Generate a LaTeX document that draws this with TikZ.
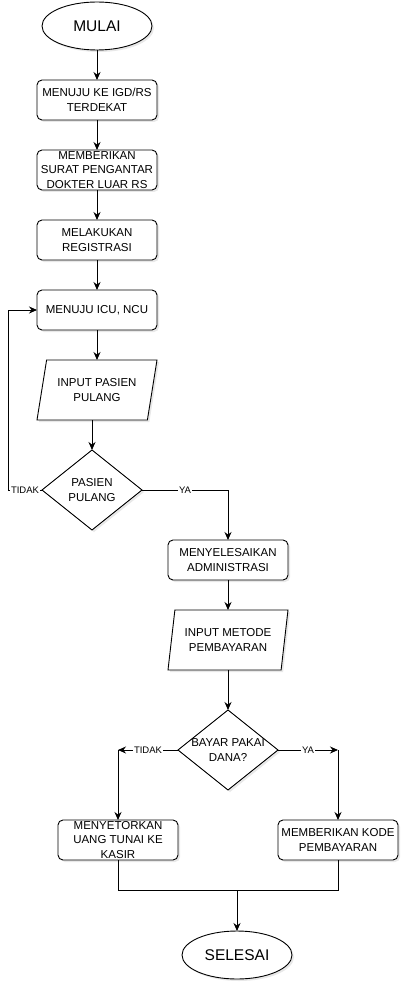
\documentclass[tikz,border=0pt]{standalone}
\usepackage{fontspec}
\setmainfont{Liberation Sans}
\usetikzlibrary{shapes.geometric,arrows.meta,shadows}
\tikzset{
	bayangan/.style={drop shadow={opacity=0.18,shadow xshift=2pt,shadow yshift=-2pt}},
	proses/.style={draw,fill=white,rounded corners=5pt,minimum width=120pt,minimum height=40pt,inner sep=0pt,outer sep=0pt,align=center,bayangan},
	terminal/.style={draw,fill=white,ellipse,minimum width=110pt,minimum height=48pt,inner sep=0pt,outer sep=0pt,font=\fontsize{15.5}{18}\selectfont,bayangan},
	data/.style={draw,fill=white,trapezium,trapezium stretches body,trapezium left angle=67,trapezium right angle=113,minimum width=120pt,minimum height=60pt,inner sep=0pt,outer sep=0pt,align=center,bayangan},
	keputusan/.style={draw,fill=white,diamond,minimum width=100pt,minimum height=80pt,inner sep=0pt,outer sep=0pt,bayangan},
	lbl/.style={fill=white,inner sep=1pt,font=\fontsize{9.5}{11}\selectfont},
	panah/.style={-{Stealth[length=8pt,width=7pt]}}
}
\begin{document}
\begin{tikzpicture}[x=1pt,y=-1pt,line width=0.9pt,font=\fontsize{11.5}{14.5}\selectfont]
	\useasboundingbox (0,0) rectangle (409,992);
	\node[terminal] (mulai) at (97,26) {MULAI};
	\node[proses] (igd) at (97,100) {MENUJU KE IGD/RS\\TERDEKAT};
	\node[proses] (pengantar) at (97,170) {MEMBERIKAN\\SURAT PENGANTAR\\DOKTER LUAR RS};
	\node[proses] (registrasi) at (97,240) {MELAKUKAN\\REGISTRASI};
	\node[proses] (icu) at (97,310) {MENUJU ICU, NCU};
	\node[data] (inputpasien) at (97,390) {INPUT PASIEN\\PULANG};
	\node[keputusan,label={[align=center]center:{PASIEN\\PULANG}}] (pulang) at (92,490) {};
	\node[proses] (admin) at (228,560) {MENYELESAIKAN\\ADMINISTRASI};
	\node[data,trapezium left angle=73,trapezium right angle=107] (inputbayar) at (228,640) {INPUT METODE\\PEMBAYARAN};
	\node[keputusan,label={[align=center]center:{BAYAR PAKAI\\DANA?}}] (bayar) at (228,750) {};
	\node[proses] (tunai) at (118,840) {MENYETORKAN\\UANG TUNAI KE\\KASIR};
	\node[proses] (kode) at (338,840) {MEMBERIKAN KODE\\PEMBAYARAN};
	\node[terminal] (selesai) at (237,955) {SELESAI};

	\coordinate (kiri) at (tunai.north |- bayar.west);
	\coordinate (kanan) at (kode.north |- bayar.east);
	\coordinate (gabung) at (selesai.north |- 0,890);

	\draw[panah] (mulai) -- (igd);
	\draw[panah] (igd) -- (pengantar);
	\draw[panah] (pengantar) -- (registrasi);
	\draw[panah] (registrasi) -- (icu);
	\draw[panah] (icu) -- (inputpasien);
	\draw[panah] (inputpasien.south -| pulang.north) -- (pulang.north);
	\draw[panah] (pulang.west) -- node[lbl]{TIDAK} ++(-34,0) |- (icu.west);
	\draw[panah] (pulang.east) -| node[lbl,pos=0.25]{YA} (admin.north);
	\draw[panah] (admin) -- (inputbayar);
	\draw[panah] (inputbayar.south -| bayar.north) -- (bayar.north);
	\draw[panah] (bayar.west) -- node[lbl]{TIDAK} (kiri);
	\draw[panah] (kiri) -- (tunai.north);
	\draw[panah] (bayar.east) -- node[lbl]{YA} (kanan);
	\draw[panah] (kanan) -- (kode.north);
	\draw (tunai.south) |- (gabung) -| (kode.south);
	\draw[panah] (gabung) -- (selesai.north);
\end{tikzpicture}
\end{document}
